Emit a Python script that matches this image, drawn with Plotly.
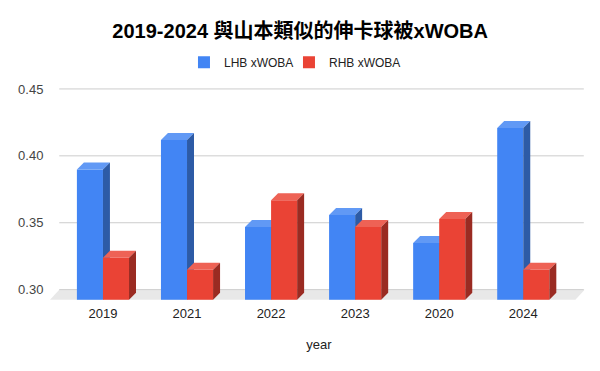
import plotly.graph_objects as go

years = ["2019", "2021", "2022", "2023", "2020", "2024"]
lhb = [0.395, 0.417, 0.352, 0.361, 0.340, 0.426]
rhb = [0.329, 0.320, 0.372, 0.352, 0.358, 0.320]
series_names = ["LHB xWOBA", "RHB xWOBA"]
y_ticks = [0.30, 0.35, 0.40, 0.45]

# style / geometry (data units)
BAR_W = 0.31
DX = 0.083        # 3D depth, x
DY = 0.0052       # 3D depth, y
FLOOR_DY = 0.0075
BASE = 0.30 - FLOOR_DY
faces = {
    "LHB xWOBA": dict(front="#4285F4", top="#6199F5", side="#2D5BA6"),
    "RHB xWOBA": dict(front="#EA4335", top="#EE6255", side="#9A2B22"),
}

fig = go.Figure()

X0, X1 = -0.63, 5.77
Y0, Y1 = 0.2915, 0.4537

# floor
fig.add_shape(type="path", xref="x", yref="y", layer="below",
              path=f"M {-0.63} {BASE} L {5.62} {BASE} L {5.73} {0.30} L {-0.52} {0.30} Z",
              fillcolor="#e8e8e8", line=dict(width=0))
# gridlines (back wall)
for t in y_ticks:
    fig.add_shape(type="line", xref="x", yref="y", layer="below",
                  x0=-0.52, x1=5.72, y0=t, y1=t, line=dict(color="#cccccc", width=1))


def poly_trace(xs, ys, color):
    return go.Scatter(x=xs, y=ys, mode="lines", fill="toself", fillcolor=color,
                      line=dict(width=0, color=color), hoverinfo="skip", showlegend=False)


for s, (name, vals) in enumerate(zip(series_names, [lhb, rhb])):
    fx, fy, tx, ty, sx, sy = [], [], [], [], [], []
    for i, v in enumerate(vals):
        x0 = i - BAR_W if s == 0 else i
        x1 = x0 + BAR_W
        ft = v - DY
        fx += [x0, x1, x1, x0, x0, None]
        fy += [BASE, BASE, ft, ft, BASE, None]
        tx += [x0, x1, x1 + DX, x0 + DX, x0, None]
        ty += [ft, ft, v, v, ft, None]
        sx += [x1, x1 + DX, x1 + DX, x1, x1, None]
        sy += [BASE, BASE + DY, v, ft, BASE, None]
    c = faces[name]
    fig.add_trace(poly_trace(fx, fy, c["front"]))
    fig.add_trace(poly_trace(tx, ty, c["top"]))
    fig.add_trace(poly_trace(sx, sy, c["side"]))

legend_ids = ["legend", "legend2"]
for name, lid in zip(series_names, legend_ids):
    fig.add_trace(go.Scatter(x=[None], y=[None], mode="markers", name=name, legend=lid,
                             marker=dict(symbol="square", size=12, color=faces[name]["front"])))

legend_style = dict(orientation="h", xanchor="left", xref="container",
                    y=0.854, yanchor="middle", yref="container",
                    font=dict(size=12, color="#222222"), itemwidth=30,
                    bgcolor="rgba(0,0,0,0)")

fig.update_layout(
    width=600, height=371,
    margin=dict(l=42, r=20, t=76, b=77.6, autoexpand=False),
    paper_bgcolor="white", plot_bgcolor="white",
    font=dict(family="Liberation Sans, Arial, 'Noto Sans CJK TC', sans-serif", color="#222222"),
    title=dict(text="2019-2024 與山本類似的伸卡球被xWOBA", x=0.487, xref="container",
               y=0.938, yref="container", yanchor="middle",
               font=dict(size=20, weight="bold", color="#000000",
                         family="Liberation Sans, Arial, 'Noto Sans CJK TC', sans-serif")),
    legend=dict(x=0.2933, **legend_style),
    legend2=dict(x=0.4683, **legend_style),
    showlegend=True,
    xaxis=dict(range=[X0, X1], tickvals=list(range(len(years))), ticktext=years,
               showgrid=False, zeroline=False, showline=False, automargin=False,
               ticks="outside", ticklen=0, tickcolor="rgba(0,0,0,0)",
               tickfont=dict(size=13, color="#222222"),
               title=dict(text="year", font=dict(size=13, color="#222222"), standoff=20),
               fixedrange=True),
    yaxis=dict(range=[Y0, Y1], tickvals=y_ticks, ticktext=[f"{t:.2f}" for t in y_ticks],
               showgrid=False, zeroline=False, showline=False, automargin=False,
               ticks="outside", ticklen=3, tickcolor="rgba(0,0,0,0)",
               tickfont=dict(size=13, color="#444444"), fixedrange=True),
)

fig.write_html("out.html")
